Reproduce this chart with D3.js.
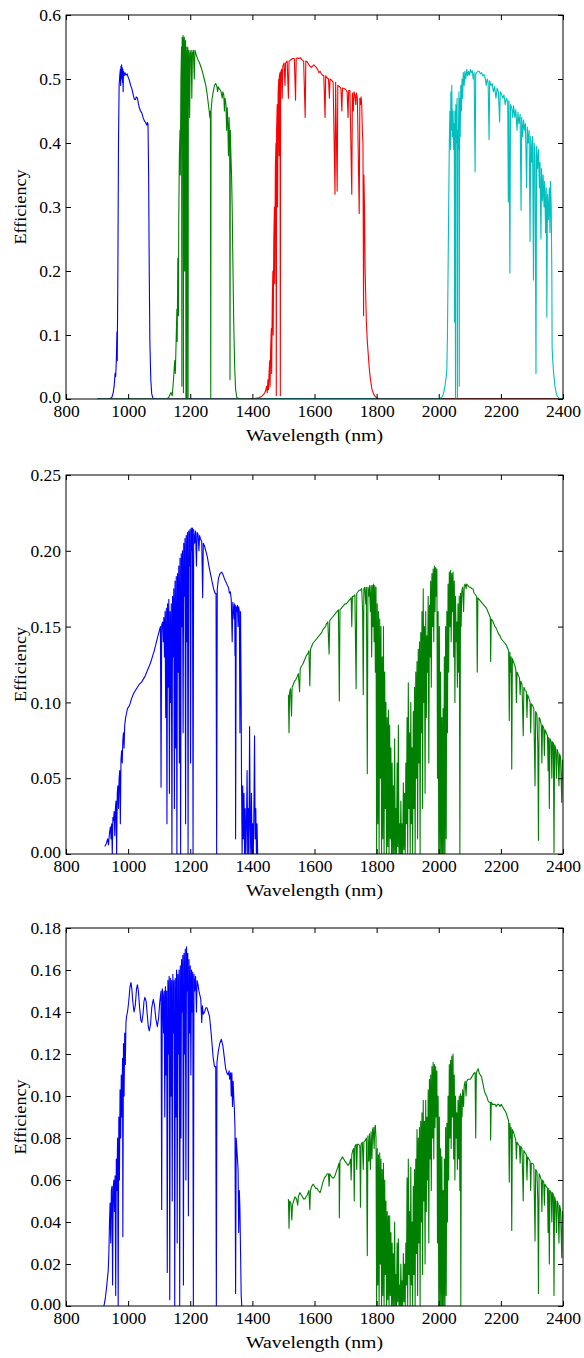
<!DOCTYPE html>
<html><head><meta charset="utf-8">
<script src="https://cdn.jsdelivr.net/npm/d3@7"></script>
<style>
body{margin:0;background:#fff}
svg{display:block}
svg text{font-family:"Liberation Serif","DejaVu Serif",serif;fill:#000}
</style>
</head><body><div id="chart"></div>
<script>
// ---------- tick labels ----------
const xTicks = [800,1000,1200,1400,1600,1800,2000,2200,2400];
const p1YTicks = [0,0.1,0.2,0.3,0.4,0.5,0.6];
const p2YTicks = [0,0.05,0.10,0.15,0.20,0.25];
const p3YTicks = [0,0.02,0.04,0.06,0.08,0.10,0.12,0.14,0.16,0.18];
const xLabel = "Wavelength (nm)";
const yLabel = "Efficiency";

// ---------- panel 1 series [wavelength nm, efficiency] ----------
const p1Blue = [[900,0],[940,0],[948,0.003],[952,0.01],[955,0.02],[958,0.04],[960,0.035],[962,0.06],[964,0.105],[965,0.06],[967,0.2],[969,0.4],[971,0.49],[973,0.505],[975,0.515],[976,0.49],[977,0.52],[978,0.5],[979,0.522],[980,0.505],[981,0.518],[982,0.495],[983,0.515],[984,0.48],[985,0.512],[987,0.505],[990,0.51],[993,0.506],[997,0.508],[1000,0.503],[1004,0.498],[1008,0.49],[1012,0.485],[1016,0.476],[1020,0.468],[1024,0.468],[1026,0.472],[1030,0.47],[1033,0.462],[1036,0.455],[1040,0.45],[1044,0.447],[1048,0.44],[1052,0.435],[1056,0.432],[1060,0.428],[1062,0.432],[1064,0.43],[1066,0.35],[1068,0.2],[1070,0.09],[1073,0.03],[1076,0.008],[1080,0.001],[1090,0],[2400,0]];
const p1Green = [[900,0],[1120,0],[1130,0.002],[1138,0.01],[1142,0.005],[1146,0.03],[1150,0.06],[1152,0.04],[1155,0.1],[1157,0.14],[1158,0.09],[1160,0.22],[1162,0.13],[1163,0.28],[1165,0.38],[1167,0.42],[1168,0.35],[1170,0.5],[1172,0.55],[1173,0.02],[1174,0.565],[1175,0.4],[1176,0.56],[1177,0.568],[1178,0.01],[1179,0.55],[1181,0.565],[1182,0.2],[1183,0.55],[1185,0.56],[1186,0.0],[1187,0.55],[1189,0.0],[1190,0.54],[1192,0.55],[1193,0.0],[1194,0.53],[1196,0.545],[1198,0.44],[1200,0.54],[1203,0.545],[1205,0.47],[1207,0.54],[1210,0.545],[1213,0.5],[1215,0.545],[1218,0.54],[1221,0.535],[1225,0.53],[1230,0.525],[1235,0.518],[1240,0.51],[1245,0.5],[1250,0.49],[1254,0.478],[1258,0.462],[1261,0.45],[1263,0.44],[1265,0.45],[1266,0.0],[1267,0.45],[1270,0.468],[1274,0.48],[1278,0.49],[1282,0.493],[1286,0.488],[1288,0.48],[1290,0.488],[1294,0.484],[1298,0.482],[1300,0.478],[1303,0.47],[1305,0.48],[1308,0.475],[1310,0.45],[1312,0.47],[1315,0.46],[1317,0.42],[1319,0.455],[1321,0.43],[1323,0.38],[1325,0.44],[1327,0.4],[1328,0.03],[1329,0.42],[1331,0.38],[1333,0.35],[1335,0.3],[1337,0.22],[1340,0.12],[1343,0.05],[1346,0.015],[1350,0.002],[1360,0],[2400,0]];
const p1Red = [[900,0],[1400,0],[1420,0.002],[1430,0.004],[1438,0.008],[1442,0.012],[1446,0.02],[1448,0.01],[1450,0.03],[1452,0.015],[1454,0.045],[1456,0.06],[1457,0.02],[1459,0.08],[1461,0.11],[1462,0.04],[1464,0.15],[1466,0.2],[1467,0.1],[1469,0.25],[1471,0.3],[1472,0.18],[1474,0.36],[1476,0.4],[1477,0.005],[1478,0.42],[1480,0.46],[1481,0.3],[1483,0.48],[1485,0.5],[1486,0.38],[1487,0.505],[1489,0.51],[1490,0.005],[1491,0.51],[1494,0.515],[1496,0.47],[1498,0.52],[1502,0.525],[1505,0.49],[1507,0.525],[1512,0.528],[1516,0.47],[1518,0.528],[1524,0.53],[1530,0.532],[1535,0.532],[1539,0.467],[1541,0.532],[1545,0.533],[1550,0.532],[1555,0.533],[1560,0.53],[1565,0.528],[1570,0.44],[1572,0.528],[1576,0.527],[1580,0.524],[1585,0.52],[1590,0.518],[1594,0.52],[1598,0.522],[1602,0.52],[1606,0.518],[1610,0.515],[1614,0.51],[1618,0.512],[1622,0.508],[1626,0.506],[1630,0.505],[1634,0.44],[1636,0.505],[1640,0.502],[1645,0.5],[1648,0.47],[1650,0.5],[1655,0.498],[1660,0.495],[1666,0.32],[1668,0.495],[1673,0.325],[1675,0.49],[1680,0.488],[1685,0.486],[1688,0.45],[1690,0.486],[1695,0.485],[1700,0.484],[1705,0.48],[1708,0.44],[1710,0.482],[1714,0.482],[1720,0.32],[1722,0.478],[1725,0.45],[1727,0.48],[1730,0.476],[1733,0.46],[1735,0.478],[1738,0.47],[1744,0.29],[1746,0.47],[1748,0.46],[1750,0.472],[1752,0.46],[1754,0.42],[1756,0.4],[1758,0.13],[1759,0.35],[1761,0.3],[1763,0.2],[1765,0.16],[1767,0.12],[1770,0.09],[1773,0.07],[1776,0.05],[1779,0.035],[1782,0.025],[1785,0.015],[1790,0.008],[1795,0.004],[1800,0.002],[1810,0],[2400,0]];
const p1Cyan = [[900,0],[1990,0],[2005,0.001],[2012,0.004],[2016,0.01],[2020,0.02],[2024,0.035],[2026,0.045],[2028,0.1],[2030,0.2],[2032,0.3],[2034,0.4],[2036,0.45],[2038,0.39],[2039,0.48],[2041,0.42],[2042,0.49],[2044,0.41],[2046,0.45],[2048,0.39],[2050,0.43],[2051,0.12],[2052,0.45],[2054,0.0],[2055,0.46],[2057,0.4],[2059,0.47],[2060,0.0],[2061,0.42],[2063,0.39],[2065,0.48],[2066,0.02],[2067,0.47],[2069,0.41],[2071,0.49],[2073,0.45],[2075,0.5],[2077,0.47],[2079,0.51],[2082,0.49],[2084,0.512],[2087,0.5],[2090,0.515],[2093,0.505],[2096,0.512],[2099,0.506],[2102,0.515],[2105,0.51],[2108,0.513],[2111,0.5],[2114,0.51],[2117,0.355],[2119,0.508],[2122,0.51],[2126,0.512],[2130,0.512],[2134,0.508],[2138,0.51],[2142,0.505],[2146,0.507],[2150,0.5],[2153,0.49],[2156,0.5],[2159,0.495],[2162,0.405],[2164,0.497],[2168,0.49],[2172,0.493],[2176,0.48],[2180,0.488],[2184,0.47],[2188,0.486],[2192,0.48],[2196,0.433],[2198,0.48],[2202,0.476],[2206,0.47],[2210,0.475],[2214,0.46],[2218,0.47],[2222,0.465],[2224,0.308],[2226,0.466],[2229,0.197],[2231,0.46],[2235,0.455],[2238,0.44],[2241,0.458],[2245,0.44],[2248,0.452],[2252,0.42],[2255,0.448],[2258,0.43],[2262,0.445],[2265,0.295],[2267,0.44],[2270,0.41],[2273,0.436],[2276,0.42],[2279,0.43],[2283,0.33],[2285,0.425],[2288,0.4],[2291,0.42],[2294,0.246],[2296,0.41],[2299,0.37],[2302,0.41],[2305,0.186],[2307,0.4],[2310,0.38],[2313,0.04],[2315,0.395],[2318,0.36],[2321,0.39],[2324,0.33],[2326,0.37],[2329,0.25],[2331,0.36],[2334,0.31],[2336,0.35],[2339,0.3],[2341,0.34],[2344,0.26],[2346,0.33],[2348,0.128],[2350,0.32],[2353,0.28],[2356,0.33],[2358,0.26],[2360,0.34],[2362,0.3],[2364,0.2],[2365,0.08],[2367,0.06],[2370,0.04],[2374,0.02],[2378,0.01],[2382,0.004],[2388,0.001],[2400,0]];

// ---------- panel 2 series ----------
const p2Blue = [[925,0.005],[930,0.007],[934,0.01],[937,0.006],[940,0.014],[943,0.018],[945,0.01],[947,0.02],[949,0.0],[951,0.024],[953,0.022],[955,0.028],[957,0.012],[959,0.03],[961,0.035],[963,0.0],[965,0.04],[967,0.045],[969,0.03],[971,0.05],[973,0.055],[975,0.02],[977,0.062],[979,0.068],[981,0.06],[983,0.075],[985,0.08],[987,0.07],[989,0.085],[992,0.09],[995,0.093],[998,0.096],[1002,0.097],[1006,0.099],[1012,0.103],[1018,0.106],[1024,0.108],[1030,0.11],[1036,0.112],[1042,0.113],[1048,0.115],[1054,0.117],[1060,0.12],[1066,0.123],[1072,0.126],[1078,0.13],[1084,0.134],[1090,0.139],[1095,0.143],[1100,0.147],[1104,0.15],[1106,0.044],[1108,0.151],[1111,0.153],[1113,0.14],[1115,0.156],[1117,0.13],[1119,0.16],[1121,0.09],[1123,0.162],[1125,0.02],[1127,0.165],[1129,0.11],[1131,0.168],[1133,0.04],[1135,0.16],[1137,0.1],[1139,0.165],[1141,0.0],[1143,0.17],[1145,0.13],[1147,0.175],[1149,0.03],[1151,0.18],[1153,0.07],[1155,0.183],[1157,0.0],[1159,0.185],[1161,0.12],[1163,0.19],[1165,0.06],[1167,0.195],[1169,0.0],[1171,0.198],[1173,0.15],[1175,0.2],[1177,0.08],[1179,0.205],[1181,0.17],[1183,0.208],[1185,0.02],[1187,0.21],[1189,0.14],[1191,0.212],[1193,0.0],[1195,0.213],[1197,0.19],[1199,0.214],[1201,0.06],[1203,0.215],[1205,0.2],[1207,0.215],[1209,0.0],[1211,0.214],[1214,0.205],[1217,0.213],[1220,0.19],[1222,0.212],[1225,0.211],[1228,0.2],[1230,0.21],[1233,0.208],[1237,0.206],[1240,0.169],[1242,0.205],[1246,0.203],[1250,0.2],[1255,0.196],[1260,0.19],[1265,0.185],[1270,0.18],[1275,0.175],[1280,0.172],[1283,0.172],[1285,0.0],[1287,0.175],[1291,0.182],[1296,0.185],[1301,0.186],[1306,0.184],[1311,0.181],[1316,0.179],[1320,0.177],[1323,0.176],[1326,0.172],[1329,0.173],[1332,0.168],[1335,0.14],[1337,0.166],[1339,0.163],[1341,0.155],[1343,0.165],[1344,0.131],[1345,0.164],[1346,0.01],[1348,0.163],[1350,0.16],[1352,0.164],[1354,0.15],[1356,0.163],[1358,0.16],[1360,0.08],[1362,0.16],[1364,0.1],[1365,0.05],[1367,0.0],[1369,0.045],[1371,0.01],[1373,0.04],[1375,0.0],[1377,0.03],[1379,0.0],[1381,0.02],[1383,0.055],[1385,0.0],[1387,0.03],[1389,0.0],[1391,0.084],[1393,0.02],[1395,0.0],[1397,0.04],[1399,0.0],[1401,0.02],[1403,0.0],[1405,0.03],[1407,0.078],[1409,0.01],[1411,0.03],[1413,0.0],[1415,0.02],[1417,0.0]];
const p2Green = [[1516,0.105],[1518,0.08],[1520,0.107],[1523,0.109],[1526,0.091],[1528,0.11],[1532,0.112],[1536,0.114],[1540,0.115],[1544,0.117],[1548,0.119],[1552,0.107],[1554,0.122],[1558,0.124],[1562,0.125],[1566,0.127],[1570,0.129],[1574,0.131],[1578,0.132],[1582,0.134],[1585,0.111],[1587,0.135],[1591,0.137],[1595,0.139],[1599,0.14],[1603,0.141],[1607,0.142],[1611,0.143],[1615,0.144],[1619,0.145],[1623,0.146],[1627,0.148],[1631,0.149],[1635,0.15],[1639,0.152],[1643,0.153],[1647,0.132],[1649,0.154],[1653,0.155],[1657,0.156],[1661,0.157],[1665,0.158],[1669,0.159],[1673,0.16],[1677,0.161],[1680,0.101],[1682,0.161],[1686,0.162],[1690,0.163],[1694,0.164],[1698,0.165],[1702,0.165],[1706,0.166],[1710,0.167],[1714,0.168],[1718,0.169],[1720,0.15],[1722,0.17],[1726,0.17],[1730,0.171],[1734,0.109],[1736,0.172],[1740,0.173],[1744,0.174],[1748,0.174],[1752,0.175],[1755,0.16],[1757,0.105],[1759,0.175],[1762,0.176],[1765,0.165],[1767,0.176],[1770,0.053],[1772,0.176],[1775,0.17],[1777,0.177],[1780,0.16],[1782,0.177],[1784,0.13],[1786,0.177],[1788,0.15],[1790,0.178],[1792,0.14],[1794,0.177],[1796,0.12],[1798,0.176],[1800,0.0],[1802,0.165],[1804,0.02],[1806,0.16],[1808,0.0],[1810,0.155],[1812,0.05],[1814,0.15],[1816,0.0],[1818,0.13],[1820,0.01],[1822,0.15],[1824,0.0],[1826,0.12],[1828,0.03],[1830,0.1],[1832,0.0],[1834,0.09],[1836,0.005],[1838,0.095],[1840,0.0],[1842,0.085],[1844,0.01],[1846,0.07],[1848,0.0],[1850,0.06],[1852,0.0],[1854,0.045],[1856,0.0],[1858,0.076],[1860,0.0],[1862,0.03],[1864,0.0],[1866,0.06],[1868,0.005],[1870,0.085],[1872,0.0],[1874,0.02],[1876,0.0],[1878,0.035],[1880,0.0],[1882,0.02],[1884,0.0],[1886,0.047],[1888,0.003],[1890,0.04],[1892,0.0],[1894,0.06],[1896,0.02],[1898,0.09],[1900,0.0],[1902,0.113],[1904,0.03],[1906,0.08],[1908,0.0],[1910,0.1],[1912,0.02],[1914,0.07],[1916,0.0],[1918,0.094],[1920,0.03],[1922,0.11],[1924,0.0],[1926,0.12],[1928,0.05],[1930,0.127],[1932,0.01],[1934,0.135],[1936,0.06],[1938,0.14],[1940,0.0],[1942,0.146],[1944,0.08],[1946,0.16],[1948,0.03],[1950,0.175],[1952,0.1],[1954,0.15],[1956,0.04],[1958,0.16],[1960,0.09],[1962,0.144],[1964,0.12],[1966,0.17],[1968,0.06],[1970,0.164],[1972,0.13],[1974,0.18],[1976,0.11],[1978,0.185],[1980,0.15],[1982,0.188],[1984,0.14],[1986,0.19],[1988,0.16],[1990,0.189],[1992,0.17],[1994,0.188],[1996,0.05],[1998,0.16],[2000,0.0],[2002,0.15],[2004,0.0],[2006,0.12],[2008,0.0],[2010,0.09],[2012,0.0],[2014,0.096],[2016,0.0],[2018,0.13],[2020,0.0],[2022,0.15],[2024,0.01],[2026,0.16],[2028,0.08],[2030,0.178],[2032,0.12],[2034,0.186],[2036,0.15],[2038,0.187],[2040,0.14],[2042,0.185],[2044,0.16],[2046,0.186],[2048,0.13],[2050,0.18],[2052,0.1],[2054,0.17],[2056,0.14],[2058,0.153],[2060,0.11],[2062,0.165],[2064,0.12],[2066,0.17],[2068,0.0],[2070,0.172],[2072,0.15],[2074,0.173],[2077,0.176],[2080,0.16],[2082,0.177],[2085,0.178],[2088,0.175],[2090,0.178],[2094,0.177],[2098,0.176],[2102,0.176],[2106,0.175],[2110,0.175],[2114,0.172],[2118,0.171],[2122,0.17],[2124,0.12],[2126,0.169],[2130,0.168],[2134,0.167],[2138,0.166],[2142,0.165],[2146,0.164],[2150,0.163],[2154,0.162],[2158,0.16],[2162,0.158],[2166,0.156],[2167,0.127],[2169,0.155],[2173,0.154],[2177,0.152],[2181,0.15],[2185,0.149],[2189,0.147],[2193,0.145],[2197,0.144],[2201,0.142],[2205,0.141],[2209,0.14],[2213,0.139],[2217,0.138],[2221,0.136],[2225,0.134],[2227,0.088],[2229,0.133],[2231,0.12],[2233,0.13],[2235,0.056],[2237,0.129],[2240,0.127],[2244,0.125],[2248,0.122],[2250,0.1],[2252,0.12],[2256,0.118],[2260,0.116],[2262,0.105],[2264,0.114],[2268,0.112],[2272,0.078],[2274,0.11],[2278,0.108],[2282,0.107],[2284,0.09],[2286,0.105],[2290,0.103],[2294,0.1],[2296,0.08],[2298,0.099],[2302,0.098],[2306,0.096],[2308,0.07],[2310,0.045],[2312,0.094],[2316,0.092],[2319,0.07],[2321,0.009],[2323,0.09],[2326,0.089],[2330,0.085],[2332,0.06],[2334,0.085],[2338,0.083],[2340,0.065],[2342,0.082],[2346,0.08],[2350,0.078],[2352,0.055],[2354,0.077],[2356,0.03],[2358,0.076],[2362,0.074],[2364,0.05],[2366,0.074],[2369,0.073],[2371,0.001],[2373,0.072],[2376,0.07],[2379,0.05],[2381,0.069],[2384,0.067],[2387,0.045],[2389,0.066],[2392,0.064],[2394,0.05],[2396,0.034],[2398,0.062],[2400,0.06]];

// ---------- panel 3 series ----------
const p3Blue = [[922,0.0],[926,0.003],[930,0.008],[934,0.014],[936,0.017],[938,0.025],[940,0.04],[942,0.049],[944,0.03],[946,0.055],[948,0.057],[950,0.01],[952,0.056],[954,0.06],[956,0.045],[958,0.062],[960,0.005],[962,0.07],[964,0.055],[966,0.08],[968,0.0],[970,0.09],[972,0.06],[974,0.103],[976,0.08],[978,0.11],[980,0.09],[982,0.118],[983,0.033],[985,0.125],[987,0.1],[989,0.13],[991,0.115],[993,0.135],[995,0.138],[998,0.14],[1002,0.145],[1006,0.152],[1009,0.154],[1012,0.151],[1015,0.145],[1019,0.14],[1023,0.143],[1027,0.151],[1030,0.153],[1033,0.15],[1037,0.142],[1041,0.136],[1044,0.135],[1048,0.139],[1051,0.145],[1054,0.147],[1058,0.145],[1062,0.138],[1065,0.133],[1068,0.131],[1072,0.134],[1076,0.142],[1081,0.146],[1085,0.143],[1089,0.137],[1094,0.133],[1098,0.137],[1102,0.145],[1106,0.15],[1108,0.046],[1110,0.151],[1112,0.148],[1114,0.13],[1116,0.15],[1118,0.09],[1120,0.152],[1122,0.11],[1124,0.15],[1126,0.016],[1128,0.155],[1130,0.12],[1132,0.157],[1134,0.003],[1136,0.156],[1138,0.1],[1140,0.155],[1142,0.05],[1144,0.158],[1146,0.13],[1148,0.155],[1150,0.0],[1152,0.156],[1154,0.09],[1156,0.16],[1158,0.03],[1160,0.158],[1162,0.12],[1164,0.16],[1166,0.0],[1168,0.162],[1170,0.08],[1172,0.165],[1174,0.14],[1176,0.167],[1178,0.01],[1180,0.168],[1182,0.12],[1184,0.17],[1186,0.06],[1188,0.171],[1190,0.15],[1192,0.168],[1194,0.043],[1196,0.165],[1198,0.13],[1200,0.162],[1202,0.11],[1204,0.16],[1206,0.14],[1208,0.159],[1210,0.0],[1212,0.158],[1214,0.15],[1217,0.157],[1220,0.14],[1222,0.155],[1225,0.153],[1228,0.15],[1231,0.148],[1234,0.146],[1237,0.135],[1239,0.143],[1242,0.139],[1246,0.14],[1250,0.142],[1254,0.142],[1258,0.14],[1262,0.138],[1266,0.132],[1270,0.125],[1274,0.118],[1278,0.114],[1282,0.114],[1284,0.0],[1286,0.116],[1290,0.121],[1295,0.125],[1300,0.127],[1305,0.124],[1310,0.118],[1314,0.113],[1318,0.111],[1322,0.11],[1325,0.112],[1327,0.108],[1330,0.111],[1332,0.1],[1334,0.111],[1336,0.095],[1338,0.107],[1340,0.1],[1342,0.094],[1344,0.085],[1346,0.006],[1348,0.08],[1350,0.075],[1352,0.07],[1354,0.065],[1356,0.035],[1358,0.055],[1360,0.046],[1362,0.025],[1364,0.005],[1366,0.0]];
const p3Green = [[1516,0.051],[1518,0.037],[1520,0.05],[1524,0.049],[1527,0.041],[1529,0.048],[1533,0.05],[1537,0.052],[1542,0.051],[1546,0.048],[1548,0.052],[1553,0.054],[1557,0.053],[1561,0.052],[1565,0.051],[1569,0.051],[1573,0.052],[1577,0.053],[1582,0.055],[1585,0.046],[1587,0.055],[1591,0.057],[1596,0.058],[1600,0.057],[1604,0.056],[1608,0.056],[1612,0.055],[1618,0.054],[1622,0.056],[1627,0.059],[1632,0.061],[1637,0.062],[1641,0.063],[1645,0.063],[1647,0.057],[1649,0.063],[1653,0.062],[1658,0.061],[1662,0.061],[1666,0.062],[1670,0.064],[1675,0.066],[1679,0.068],[1680,0.042],[1682,0.069],[1686,0.07],[1690,0.071],[1694,0.07],[1698,0.069],[1703,0.068],[1708,0.067],[1713,0.068],[1716,0.07],[1718,0.06],[1720,0.072],[1723,0.074],[1726,0.075],[1728,0.05],[1730,0.076],[1734,0.077],[1736,0.065],[1738,0.077],[1742,0.077],[1746,0.076],[1748,0.047],[1750,0.077],[1754,0.078],[1757,0.065],[1759,0.078],[1764,0.079],[1767,0.08],[1770,0.024],[1772,0.081],[1775,0.069],[1777,0.082],[1780,0.065],[1782,0.083],[1785,0.07],[1787,0.084],[1789,0.085],[1792,0.075],[1794,0.085],[1796,0.086],[1798,0.08],[1800,0.0],[1802,0.075],[1804,0.01],[1806,0.072],[1808,0.0],[1810,0.073],[1812,0.02],[1814,0.07],[1816,0.0],[1818,0.065],[1820,0.005],[1822,0.068],[1824,0.0],[1826,0.06],[1828,0.015],[1830,0.05],[1832,0.0],[1834,0.045],[1836,0.003],[1838,0.043],[1840,0.0],[1842,0.043],[1844,0.005],[1846,0.035],[1848,0.0],[1850,0.03],[1852,0.0],[1854,0.025],[1856,0.0],[1858,0.04],[1860,0.0],[1862,0.015],[1864,0.0],[1866,0.03],[1868,0.002],[1870,0.032],[1872,0.0],[1874,0.01],[1876,0.0],[1878,0.02],[1880,0.0],[1882,0.012],[1884,0.0],[1886,0.025],[1888,0.002],[1890,0.02],[1892,0.0],[1894,0.03],[1896,0.01],[1898,0.061],[1900,0.0],[1902,0.07],[1904,0.015],[1906,0.045],[1908,0.0],[1910,0.066],[1912,0.01],[1914,0.04],[1916,0.0],[1918,0.057],[1920,0.015],[1922,0.065],[1924,0.0],[1926,0.07],[1928,0.025],[1930,0.084],[1932,0.005],[1934,0.08],[1936,0.03],[1938,0.085],[1940,0.0],[1942,0.088],[1944,0.04],[1946,0.092],[1948,0.015],[1950,0.098],[1952,0.05],[1954,0.088],[1956,0.02],[1958,0.098],[1960,0.045],[1962,0.09],[1964,0.06],[1966,0.103],[1968,0.03],[1970,0.108],[1972,0.07],[1974,0.11],[1976,0.055],[1978,0.114],[1980,0.08],[1982,0.116],[1984,0.07],[1986,0.115],[1988,0.085],[1990,0.114],[1992,0.09],[1994,0.112],[1996,0.03],[1998,0.1],[2000,0.0],[2002,0.09],[2004,0.0],[2006,0.075],[2008,0.0],[2010,0.071],[2012,0.0],[2014,0.055],[2016,0.0],[2018,0.07],[2020,0.0],[2022,0.085],[2024,0.005],[2026,0.087],[2028,0.04],[2030,0.1],[2032,0.06],[2034,0.115],[2036,0.08],[2038,0.117],[2040,0.075],[2042,0.119],[2044,0.09],[2046,0.12],[2048,0.07],[2050,0.11],[2052,0.06],[2054,0.1],[2056,0.08],[2058,0.092],[2060,0.065],[2062,0.098],[2064,0.07],[2066,0.1],[2068,0.055],[2070,0.101],[2071,0.0],[2073,0.1],[2075,0.09],[2077,0.103],[2080,0.095],[2082,0.105],[2085,0.107],[2088,0.1],[2090,0.107],[2094,0.108],[2098,0.108],[2102,0.108],[2106,0.109],[2110,0.11],[2114,0.111],[2117,0.111],[2119,0.08],[2121,0.111],[2124,0.112],[2127,0.113],[2130,0.111],[2134,0.11],[2138,0.109],[2142,0.106],[2146,0.103],[2150,0.101],[2154,0.1],[2158,0.098],[2162,0.097],[2166,0.097],[2167,0.079],[2169,0.097],[2173,0.096],[2177,0.096],[2181,0.096],[2185,0.095],[2189,0.096],[2193,0.096],[2197,0.095],[2201,0.096],[2205,0.095],[2209,0.094],[2213,0.093],[2217,0.092],[2221,0.09],[2225,0.088],[2227,0.059],[2229,0.087],[2231,0.08],[2233,0.085],[2235,0.036],[2237,0.084],[2240,0.083],[2244,0.081],[2248,0.079],[2250,0.07],[2252,0.078],[2256,0.077],[2260,0.076],[2262,0.068],[2264,0.076],[2268,0.075],[2272,0.05],[2274,0.074],[2278,0.073],[2282,0.072],[2284,0.06],[2286,0.071],[2290,0.07],[2294,0.069],[2296,0.055],[2298,0.068],[2302,0.068],[2306,0.067],[2308,0.05],[2310,0.031],[2312,0.065],[2316,0.064],[2319,0.05],[2321,0.006],[2323,0.063],[2326,0.062],[2330,0.06],[2332,0.045],[2334,0.06],[2338,0.059],[2340,0.048],[2342,0.058],[2346,0.057],[2350,0.056],[2352,0.035],[2354,0.056],[2356,0.02],[2358,0.055],[2362,0.054],[2364,0.04],[2366,0.054],[2369,0.053],[2371,0.005],[2373,0.052],[2376,0.05],[2379,0.035],[2381,0.05],[2384,0.049],[2387,0.03],[2389,0.048],[2392,0.046],[2394,0.035],[2396,0.023],[2398,0.045],[2400,0.043]];

// ---------- layout ----------
const W = 584, H = 1358;
const left = 66, right = 563;
const FS = 17.5;
const FONT = "'Liberation Serif', 'DejaVu Serif', serif";
const panels = [
  {top:15,  bottom:399,  ymax:0.6,  ticks:p1YTicks, fmt:d3.format(".1f"),
   series:[{d:p1Blue,c:"#0000ff"},{d:p1Green,c:"#008000"},{d:p1Red,c:"#ff0000"},{d:p1Cyan,c:"#00bfbf"}]},
  {top:475, bottom:854,  ymax:0.25, ticks:p2YTicks, fmt:d3.format(".2f"),
   series:[{d:p2Blue,c:"#0000ff"},{d:p2Green,c:"#008000"}]},
  {top:928, bottom:1306, ymax:0.18, ticks:p3YTicks, fmt:d3.format(".2f"),
   series:[{d:p3Blue,c:"#0000ff"},{d:p3Green,c:"#008000"}]}
];

const svg = d3.select("#chart").append("svg").attr("width",W).attr("height",H);
const x = d3.scaleLinear().domain([800,2400]).range([left,right]);

panels.forEach((p,i)=>{
  const y = d3.scaleLinear().domain([0,p.ymax]).range([p.bottom,p.top]);
  const g = svg.append("g");
  const cid = "clip"+i;
  g.append("clipPath").attr("id",cid).append("rect")
    .attr("x",left).attr("y",p.top).attr("width",right-left).attr("height",p.bottom-p.top);
  const line = d3.line().x(d=>x(d[0])).y(d=>y(d[1]));
  const dg = g.append("g").attr("clip-path",`url(#${cid})`);
  p.series.forEach(s=>{
    dg.append("path").datum(s.d).attr("d",line).attr("fill","none")
      .attr("stroke",s.c).attr("stroke-width",1.1).attr("stroke-linejoin","round");
  });
  const tl = 5;
  const ax = g.append("g").attr("transform",`translate(0,${p.bottom})`)
    .call(d3.axisBottom(x).tickValues(xTicks).tickSize(-tl).tickPadding(6).tickFormat(d3.format("d")));
  const axT = g.append("g").attr("transform",`translate(0,${p.top})`)
    .call(d3.axisTop(x).tickValues(xTicks).tickSize(-tl).tickFormat(""));
  const ay = g.append("g").attr("transform",`translate(${left},0)`)
    .call(d3.axisLeft(y).tickValues(p.ticks).tickSize(-tl).tickPadding(5).tickFormat(p.fmt));
  const ayR = g.append("g").attr("transform",`translate(${right},0)`)
    .call(d3.axisRight(y).tickValues(p.ticks).tickSize(-tl).tickFormat(""));
  [ax,axT,ay,ayR].forEach(a=>{
    a.attr("font-family",null).attr("font-size",null);
    a.select(".domain").remove();
    a.selectAll("line").attr("stroke","#000").attr("stroke-width",1);
    a.selectAll("text").style("font-family",FONT).style("font-size",FS+"px").attr("fill","#000");
  });
  ax.selectAll("text").attr("dy","0.71em");
  // lift the lowest y label a touch so it clears the first x label
  ay.selectAll(".tick").filter(d=>d===0).select("text").attr("dy","0.2em");
  g.append("rect").attr("x",left).attr("y",p.top).attr("width",right-left).attr("height",p.bottom-p.top)
    .attr("fill","none").attr("stroke","#000").attr("stroke-width",1);
  g.append("text").attr("x",(left+right)/2).attr("y",p.bottom+42)
    .attr("text-anchor","middle").style("font-family",FONT).style("font-size",FS+"px")
    .attr("textLength",137).attr("lengthAdjust","spacingAndGlyphs").text(xLabel);
  g.append("text").attr("transform",`translate(26,${(p.top+p.bottom)/2}) rotate(-90)`)
    .attr("text-anchor","middle").style("font-family",FONT).style("font-size",FS+"px")
    .attr("textLength",75).attr("lengthAdjust","spacingAndGlyphs").text(yLabel);
});
</script></body></html>
